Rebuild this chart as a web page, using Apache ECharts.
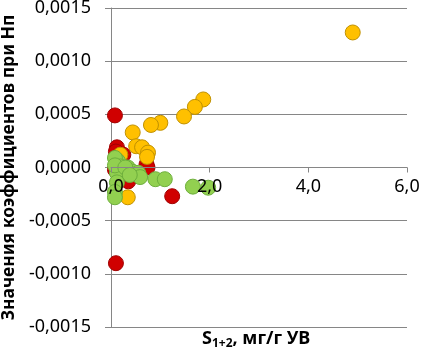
<!DOCTYPE html>
<html>
<head>
<meta charset="utf-8">
<script src="https://cdn.jsdelivr.net/npm/echarts@6/dist/echarts.min.js"></script>
<style>
  html, body { margin: 0; padding: 0; background: #fff; }
  #chart { width: 421px; height: 353px; }
</style>
</head>
<body>
<div id="chart"></div>
<script>
// S1+2 (x) vs coefficient (y), one pair per point
var redPts = [
  [0.08, 0.00049], [0.12, 0.00019], [0.10, 0.00015], [0.25, 0.00012],
  [0.72, 0.00003], [0.74, 0.0], [0.08, -0.00002], [0.30, -0.00006],
  [0.35, -0.00013], [1.24, -0.00027], [0.10, -0.00090]
];
var yellowPts = [
  [4.90, 0.00127], [1.87, 0.00064], [1.70, 0.00057], [1.48, 0.00048],
  [1.00, 0.00042], [0.81, 0.00040], [0.44, 0.00033], [0.51, 0.00020],
  [0.63, 0.00019], [0.75, 0.00014], [0.73, 0.00010], [0.19, 0.00012],
  [0.12, 0.00007], [0.34, -0.00028]
];
var greenPts = [
  [0.14, 0.00006], [0.08, 0.00009], [0.19, 0.00001], [0.25, -0.00004],
  [0.34, 0.0], [0.44, -0.00004], [0.55, -0.00005], [0.59, -0.00009],
  [0.12, -0.00005], [0.08, 0.00002], [0.29, 0.0], [0.38, -0.00007],
  [0.12, -0.00014], [0.08, -0.00023], [0.08, -0.00028], [0.90, -0.00011],
  [1.09, -0.00011], [1.66, -0.00018], [1.97, -0.00019]
];
var xTicks = { min: 0, max: 6, step: 2 };
var yTicks = { min: -0.0015, max: 0.0015, step: 0.0005 };

function comma(v, d) {
  return v.toFixed(d).replace('.', ',');
}

function dots(name, data, fill, edge) {
  return {
    name: name,
    type: 'scatter',
    data: data,
    symbol: 'circle',
    symbolSize: 15,
    itemStyle: { color: fill, borderColor: edge, borderWidth: 1, opacity: 1 }
  };
}

var gridTop = 8, gridBottom = 26, H = 353;
// the x axis sits on y = 0, which is the middle of the plot
var zeroShift = -((H - gridTop - gridBottom) / 2);

var myChart = echarts.init(document.getElementById('chart'));
var option = {
  animation: false,
  textStyle: { fontFamily: 'Noto Sans' },
  title: {
    text: '{b|S}{s|1+2}{b|, мг/г УВ}',
    left: 202,
    top: 328,
    padding: 0,
    textStyle: {
      rich: {
        b: { fontFamily: 'Noto Sans', fontSize: 18, fontWeight: 'bold', color: '#000', lineHeight: 22 },
        s: { fontFamily: 'Noto Sans', fontSize: 12, fontWeight: 'bold', color: '#000', lineHeight: 11, verticalAlign: 'bottom' }
      }
    }
  },
  grid: { left: 111, right: 14, top: gridTop, bottom: gridBottom, outerBoundsMode: 'none', containLabel: false },
  xAxis: {
    type: 'value',
    min: xTicks.min,
    max: xTicks.max,
    interval: xTicks.step,
    offset: zeroShift,
    z: 10,
    axisLine: { show: true, onZero: false, lineStyle: { color: '#868686', width: 1 } },
    axisTick: { show: true, inside: false, length: 5, lineStyle: { color: '#868686' } },
    splitLine: { show: false },
    axisLabel: {
      color: '#000', fontSize: 18, margin: 10,
      formatter: function (v) { return comma(v, 1); }
    }
  },
  yAxis: {
    type: 'value',
    min: yTicks.min,
    max: yTicks.max,
    interval: yTicks.step,
    name: 'Значения коэффициентов при Нп',
    nameLocation: 'middle',
    nameGap: 86,
    nameTextStyle: { color: '#000', fontSize: 17.5, fontWeight: 'bold', fontFamily: 'Noto Sans' },
    axisLine: { show: true, onZero: false, lineStyle: { color: '#868686', width: 1 } },
    axisTick: { show: true, inside: false, length: 6, lineStyle: { color: '#868686' } },
    splitLine: { show: true, lineStyle: { color: '#868686', width: 1 } },
    axisLabel: {
      color: '#000', fontSize: 18, margin: 20,
      formatter: function (v) { return comma(v, 4); }
    }
  },
  series: [
    dots('red', redPts, '#D00000', '#A00000'),
    dots('yellow', yellowPts, '#FFC000', '#BF9000'),
    dots('green', greenPts, '#92D050', '#6DAE3C')
  ]
};
myChart.setOption(option, true);
</script>
</body>
</html>
